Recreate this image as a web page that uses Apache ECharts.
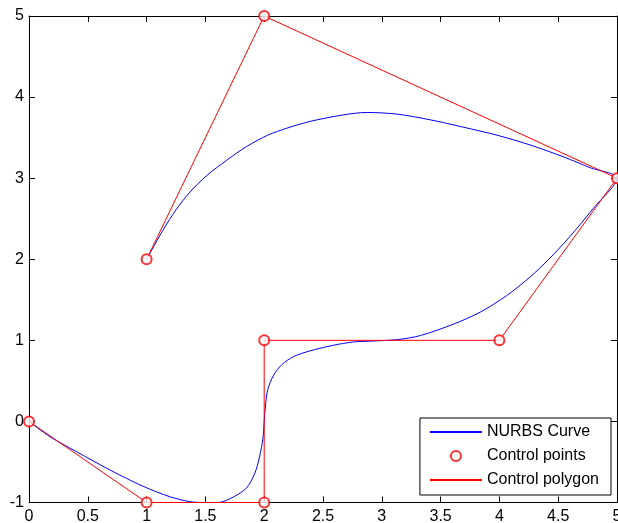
<!DOCTYPE html>
<html>
<head>
<meta charset="utf-8">
<script src="https://cdn.jsdelivr.net/npm/echarts@6/dist/echarts.min.js"></script>
<style>
html,body{margin:0;padding:0;background:#fff;}
#chart{width:618px;height:523px;}
</style>
</head>
<body>
<div id="chart"></div>
<script>
// Control points (polygon order)
var controlX = [0, 1, 2, 2, 4, 5, 2, 1];
var controlY = [0, -1, -1, 1, 1, 3, 5, 2];

// NURBS curve
var curveX = [0, 0.18, 0.40, 0.69, 0.97, 1.20, 1.37, 1.50, 1.61, 1.74, 1.85, 1.92, 1.96, 1.99, 2.00, 2.01, 2.03, 2.08, 2.15, 2.25, 2.39, 2.59, 2.76, 2.90, 3.14, 3.33, 3.61, 3.84, 4.06, 4.26, 4.42, 4.60, 4.80, 5.00,
              4.77, 4.55, 4.26, 3.98, 3.69, 3.41, 3.13, 2.87, 2.67, 2.39, 2.20, 2.03, 1.85, 1.68, 1.51, 1.37, 1.25, 1.14, 1.00];
var curveY = [0, -0.19, -0.37, -0.60, -0.80, -0.93, -0.99, -1.00, -1.00, -0.93, -0.82, -0.64, -0.44, -0.20, 0.00, 0.18, 0.39, 0.57, 0.70, 0.80, 0.87, 0.94, 0.98, 0.99, 1.01, 1.06, 1.20, 1.35, 1.55, 1.78, 2.00, 2.28, 2.63, 3.00,
              3.13, 3.26, 3.41, 3.53, 3.63, 3.72, 3.79, 3.81, 3.78, 3.70, 3.62, 3.53, 3.39, 3.22, 3.03, 2.83, 2.61, 2.36, 2.00];

var seriesNames = ['NURBS Curve', 'Control points', 'Control polygon'];

function pairs(xs, ys) {
  var out = [];
  for (var i = 0; i < xs.length; i++) out.push([xs[i], ys[i]]);
  return out;
}

var FONT = '"Liberation Sans", Arial, sans-serif';
var axisCommonX = {
  type: 'value', min: 0, max: 5, interval: 0.5,
  axisLine: { show: true, onZero: false, lineStyle: { color: '#000', width: 1 } },
  axisTick: { show: true, inside: true, length: 6, lineStyle: { color: '#000' } },
  splitLine: { show: false }
};
var axisCommonY = {
  type: 'value', min: -1, max: 5, interval: 1,
  axisLine: { show: true, onZero: false, lineStyle: { color: '#000', width: 1 } },
  axisTick: { show: true, inside: true, length: 6, lineStyle: { color: '#000' } },
  splitLine: { show: false }
};

var chart = echarts.init(document.getElementById('chart'), null, { renderer: 'canvas' });
chart.setOption({
  animation: false,
  backgroundColor: '#fff',
  textStyle: { fontFamily: FONT },
  grid: { left: 29, top: 16, width: 588, height: 486.5, containLabel: false, outerBoundsMode: 'none' },
  xAxis: [
    Object.assign({}, axisCommonX, {
      position: 'bottom',
      axisLabel: { show: true, color: '#000', fontSize: 16, fontFamily: FONT, margin: 6,
        hideOverlap: false, showMinLabel: true, showMaxLabel: true,
        formatter: function (v) { return String(v); } }
    }),
    Object.assign({}, axisCommonX, { position: 'top', axisLabel: { show: false } })
  ],
  yAxis: [
    Object.assign({}, axisCommonY, {
      position: 'left',
      axisLabel: { show: true, color: '#000', fontSize: 16, fontFamily: FONT, margin: 5 }
    }),
    Object.assign({}, axisCommonY, { position: 'right', axisLabel: { show: false } })
  ],
  legend: {
    orient: 'vertical',
    right: 7, bottom: 28,
    backgroundColor: '#fff',
    borderColor: '#000', borderWidth: 1, borderRadius: 0,
    padding: [6, 12, 7, 9],
    itemWidth: 52, itemHeight: 10, itemGap: 8,
    textStyle: { fontSize: 16, color: '#000', fontFamily: FONT },
    data: [
      { name: seriesNames[0], itemStyle: { opacity: 0 } },
      { name: seriesNames[1] },
      { name: seriesNames[2], itemStyle: { opacity: 0 } }
    ]
  },
  series: [
    {
      name: seriesNames[0], type: 'line', symbol: 'none', showSymbol: false,
      smooth: 0.3, z: 2,
      lineStyle: { color: '#0000ff', width: 1 }, itemStyle: { color: '#0000ff' },
      data: pairs(curveX, curveY)
    },
    {
      name: seriesNames[1], type: 'scatter', symbol: 'emptyCircle', symbolSize: 10, z: 4,
      itemStyle: { color: '#ff0000', borderColor: '#ff0000', borderWidth: 1 },
      data: pairs(controlX, controlY)
    },
    {
      name: seriesNames[2], type: 'line', symbol: 'none', showSymbol: false, z: 3,
      lineStyle: { color: '#ff0000', width: 1 }, itemStyle: { color: '#ff0000' },
      data: pairs(controlX, controlY)
    }
  ]
});
</script>
</body>
</html>
